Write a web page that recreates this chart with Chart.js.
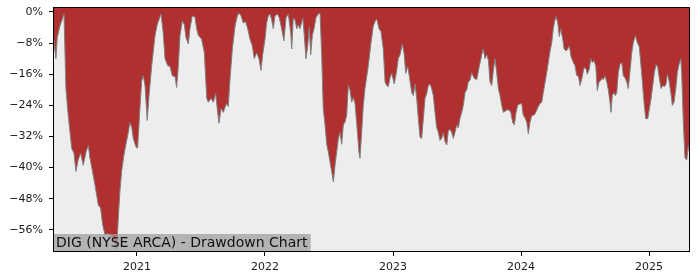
<!DOCTYPE html>
<html>
<head>
<meta charset="utf-8">
<script src="https://cdn.jsdelivr.net/npm/chart.js@4.4.1/dist/chart.umd.min.js"></script>
<style>
  html, body { margin: 0; padding: 0; background: #ffffff; }
  #wrap { width: 700px; height: 280px; position: relative; }
</style>
</head>
<body>
<div id="wrap"><canvas id="c" width="700" height="280"></canvas></div>
<script>
// Time in decimal years
const dates = [
2020.346,2020.367,2020.377,2020.398,2020.412,2020.430,2020.445,2020.463,2020.490,2020.508,
2020.523,2020.541,2020.560,2020.580,2020.602,2020.620,2020.633,2020.651,2020.672,2020.698,
2020.716,2020.732,2020.750,2020.768,2020.789,2020.815,2020.841,2020.854,2020.867,2020.880,
2020.898,2020.914,2020.932,2020.945,2020.959,2020.971,2020.992,2021.005,2021.023,2021.037,
2021.049,2021.063,2021.080,2021.094,2021.115,2021.141,2021.159,2021.174,2021.188,2021.205,
2021.219,2021.240,2021.258,2021.276,2021.297,2021.310,2021.323,2021.336,2021.354,2021.370,
2021.383,2021.401,2021.414,2021.432,2021.453,2021.466,2021.479,2021.505,2021.526,2021.545,
2021.557,2021.578,2021.596,2021.615,2021.630,2021.641,2021.656,2021.674,2021.688,2021.701,
2021.713,2021.727,2021.745,2021.766,2021.784,2021.797,2021.813,2021.830,2021.849,2021.865,
2021.883,2021.901,2021.916,2021.935,2021.953,2021.969,2021.982,2022.000,2022.013,2022.026,
2022.039,2022.052,2022.065,2022.078,2022.096,2022.112,2022.130,2022.148,2022.164,2022.182,
2022.201,2022.209,2022.221,2022.234,2022.248,2022.260,2022.273,2022.295,2022.307,2022.320,
2022.334,2022.346,2022.357,2022.370,2022.383,2022.398,2022.416,2022.430,2022.443,2022.455,
2022.469,2022.482,2022.495,2022.508,2022.521,2022.534,2022.547,2022.560,2022.573,2022.586,
2022.599,2022.612,2022.625,2022.638,2022.651,2022.664,2022.677,2022.690,2022.703,2022.716,
2022.734,2022.742,2022.755,2022.768,2022.781,2022.807,2022.828,2022.846,2022.859,2022.873,
2022.891,2022.906,2022.924,2022.938,2022.951,2022.963,2022.977,2022.990,2023.010,2023.029,
2023.041,2023.055,2023.073,2023.088,2023.099,2023.115,2023.127,2023.146,2023.159,2023.172,
2023.185,2023.198,2023.211,2023.224,2023.237,2023.250,2023.263,2023.276,2023.289,2023.302,
2023.315,2023.328,2023.341,2023.354,2023.367,2023.380,2023.393,2023.406,2023.420,2023.432,
2023.445,2023.459,2023.471,2023.484,2023.498,2023.510,2023.523,2023.537,2023.549,2023.563,
2023.576,2023.588,2023.602,2023.615,2023.633,2023.654,2023.674,2023.693,2023.705,2023.719,
2023.732,2023.745,2023.758,2023.771,2023.784,2023.797,2023.810,2023.823,2023.836,2023.849,
2023.862,2023.875,2023.888,2023.909,2023.920,2023.935,2023.948,2023.961,2023.974,2023.987,
2024.005,2024.018,2024.031,2024.045,2024.057,2024.070,2024.084,2024.096,2024.109,2024.123,
2024.135,2024.148,2024.162,2024.174,2024.188,2024.201,2024.213,2024.227,2024.240,2024.252,
2024.266,2024.273,2024.287,2024.299,2024.310,2024.326,2024.336,2024.352,2024.365,2024.377,
2024.391,2024.409,2024.422,2024.435,2024.448,2024.461,2024.474,2024.492,2024.508,2024.518,
2024.534,2024.545,2024.557,2024.570,2024.584,2024.596,2024.609,2024.623,2024.633,2024.643,
2024.656,2024.670,2024.682,2024.695,2024.703,2024.713,2024.727,2024.737,2024.748,2024.760,
2024.773,2024.787,2024.799,2024.813,2024.826,2024.838,2024.852,2024.865,2024.877,2024.893,
2024.909,2024.924,2024.935,2024.948,2024.961,2024.974,2024.990,2025.002,2025.016,2025.029,
2025.041,2025.055,2025.068,2025.080,2025.094,2025.107,2025.120,2025.133,2025.143,2025.156,
2025.170,2025.182,2025.195,2025.209,2025.221,2025.234,2025.248,2025.255,2025.268,2025.281,
2025.295,2025.307,2025.315
];
// Drawdown in percent
const drawdown = [
-6.1,-12,-6.6,-3.6,-2.3,-0.5,-19.8,-26.6,-35,-36.3,
-41,-38,-36.3,-39.4,-36,-34.3,-37.6,-40.7,-44.5,-49.6,
-50.4,-54.7,-57.3,-57,-57.3,-58,-61,-53,-46,-41,
-36.8,-34,-31,-28.4,-29.7,-32.5,-34.7,-35,-24.8,-17.6,
-16.4,-18.9,-27.9,-21.5,-13.8,-6.1,-3.1,-1.8,-0.5,-5.4,
-12,-13.8,-14,-16.4,-16.6,-19.4,-13.8,-6.1,-2.3,-3.3,
-6.6,-8.2,-4.3,-1,-1.3,-4.3,-6,-7,-10.4,-22.2,
-23.2,-22.2,-23.2,-21,-25.8,-28.6,-24.8,-25.8,-24.5,-23.5,
-24.3,-17.1,-9.5,-3.6,-1,-0.3,-1,-2.8,-2.5,-4.3,
-7,-8.7,-12,-10.5,-12,-15,-11,-7,-2.8,-1,
-0.5,-2,-4.3,-1,-0.5,-1.5,-4.3,-7.4,-1.5,-0.5,
-5.4,-9.5,-1.5,-2,-4.3,-3.3,-4.3,-1.5,-6,-12,
-8.7,-3.8,-11,-6,-4.3,-1.5,-0.5,-0.3,-11,-24.8,
-29,-34,-36,-38.6,-41,-43.7,-39.4,-36,-32.5,-31,
-34,-29,-28.3,-26.6,-18.9,-20,-23.2,-22,-23.5,-28.4,
-36,-37.6,-31,-24,-19.7,-13.8,-7.9,-3.6,-2.5,-1.8,
-4.3,-5,-9.5,-18,-18.9,-19.2,-16.9,-15.8,-18.5,-15,
-12,-11,-8.2,-11,-15.8,-14,-16.4,-20.7,-21.5,-18.5,
-22.2,-27.4,-32.2,-32.5,-27.4,-22.2,-21,-18.9,-18.5,-19.7,
-21.5,-25.8,-29.7,-30.9,-33,-32.5,-31,-33.3,-34.2,-30.5,
-30.2,-31,-32.5,-31,-29,-29.8,-27.4,-25.8,-24,-20.7,
-20,-18,-17.5,-15.6,-17,-17.4,-14,-11,-9.5,-12,
-11,-12.4,-18,-18.9,-15,-12,-15.6,-19.7,-21.5,-24,
-25.8,-25.5,-25.2,-25.2,-25.8,-28.4,-29,-25.8,-24,-23.7,
-23.5,-26.6,-27.2,-28.4,-31.3,-28.4,-26.6,-26.6,-26.2,-25.2,
-24.3,-23.5,-23.2,-20.7,-18,-15.6,-13,-10,-7.9,-4.3,
-1.8,-1.1,-2.8,-6.3,-4.3,-7,-9.5,-10,-9.5,-8.7,
-11.5,-13,-13.8,-16.4,-16.4,-18.9,-17.3,-14.3,-14.6,-16,
-14.6,-12,-13,-12.5,-14,-20.2,-18,-17.6,-17,-17.4,
-16.4,-18,-20,-23.2,-25.8,-21.5,-20.7,-21.5,-20.7,-15.6,
-13.5,-13,-16.4,-17,-18,-19.7,-15,-10.5,-7.9,-6.1,
-7.9,-9,-13,-18,-23.2,-27.4,-27.4,-25,-22.2,-18.9,
-15.6,-13.5,-14.2,-17,-19.7,-18.9,-19.2,-18.5,-16,-17.6,
-20.7,-24,-23.2,-19.7,-15.6,-13.5,-12,-15.6,-28.4,-37.6,
-38,-34.3,-36
];
const yearTicks = [2021, 2022, 2023, 2024, 2025];
const pctTicks = [0, -8, -16, -24, -32, -40, -48, -56];
const titleText = 'DIG (NYSE ARCA) - Drawdown Chart';

const FONT = 'DejaVu Sans';
const TITLE_FONT = '14px "' + FONT + '"';

const framePlugin = {
  id: 'frame',
  beforeDraw(chart) {
    const {ctx, chartArea: a} = chart;
    ctx.save();
    ctx.fillStyle = '#ededed';
    ctx.fillRect(a.left, a.top, a.right - a.left, a.bottom - a.top);
    ctx.restore();
  },
  beforeDatasetsDraw(chart) {
    const {ctx, chartArea: a} = chart;
    ctx.save();
    ctx.font = TITLE_FONT;
    const w = ctx.measureText(titleText).width;
    ctx.fillStyle = '#b3b3b3';
    ctx.fillRect(a.left, a.bottom - 18, w + 6, 18);
    ctx.restore();
  },
  afterDatasetsDraw(chart) {
    const {ctx, chartArea: a} = chart;
    ctx.save();
    ctx.font = TITLE_FONT;
    const w = ctx.measureText(titleText).width;
    ctx.fillStyle = 'rgba(179,179,179,0.55)';
    ctx.fillRect(a.left, a.bottom - 18, w + 6, 18);
    ctx.fillStyle = '#111111';
    ctx.textBaseline = 'middle';
    ctx.textAlign = 'left';
    ctx.fillText(titleText, a.left + 3, a.bottom - 8.5);
    ctx.strokeStyle = '#000000';
    ctx.lineWidth = 1;
    ctx.strokeRect(Math.round(a.left) + 0.5, Math.round(a.top) + 0.5,
                   Math.round(a.right - a.left) - 1, Math.round(a.bottom - a.top) - 1);
    ctx.restore();
  }
};

new Chart(document.getElementById('c'), {
  type: 'line',
  data: {
    datasets: [{
      data: dates.map((d, i) => ({x: d, y: drawdown[i]})),
      borderColor: '#808080',
      borderWidth: 1,
      backgroundColor: '#b03030',
      fill: 'end',
      pointRadius: 0,
      tension: 0
    }]
  },
  options: {
    responsive: false,
    devicePixelRatio: 1,
    animation: false,
    layout: { padding: { top: 7, right: 10, left: 0, bottom: 0 } },
    plugins: { legend: { display: false }, tooltip: { enabled: false } },
    scales: {
      x: {
        type: 'linear',
        min: 2020.344,
        max: 2025.32,
        afterFit(s) { s.height = 28; s.paddingLeft = 0; s.paddingRight = 0; },
        afterBuildTicks(s) { s.ticks = yearTicks.map(v => ({value: v})); },
        grid: { display: true, drawOnChartArea: false, drawTicks: true, tickLength: 4, color: '#000' },
        border: { display: false },
        ticks: {
          font: { family: FONT, size: 11 },
          color: '#1a1a1a',
          padding: 5,
          maxRotation: 0,
          autoSkip: false,
          callback: v => String(v)
        }
      },
      y: {
        type: 'linear',
        min: -61.7,
        max: 1.28,
        afterFit(s) { s.width = 53; s.paddingTop = 0; s.paddingBottom = 0; },
        afterBuildTicks(s) { s.ticks = pctTicks.map(v => ({value: v})); },
        grid: { display: true, drawOnChartArea: false, drawTicks: true, tickLength: 4, color: '#000' },
        border: { display: false },
        ticks: {
          font: { family: FONT, size: 11 },
          color: '#1a1a1a',
          padding: 6,
          autoSkip: false,
          callback: v => (v < 0 ? '\u2212' : '') + Math.abs(v) + '%'
        }
      }
    }
  },
  plugins: [framePlugin]
});
</script>
</body>
</html>
